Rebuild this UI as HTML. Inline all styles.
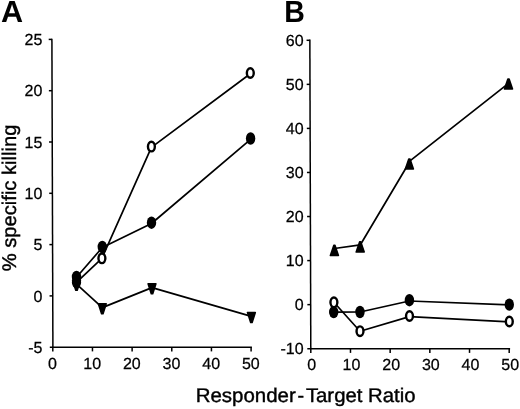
<!DOCTYPE html>
<html><head><meta charset="utf-8"><title>Figure</title>
<style>
html,body{margin:0;padding:0;background:#fff;}
body{width:520px;height:409px;overflow:hidden;}
svg{display:block;filter:grayscale(1);}
text{font-family:"Liberation Sans",sans-serif;text-rendering:geometricPrecision;fill:#000;stroke:#000;stroke-width:0.25;}
.t{font-size:16px;}
.l{font-size:19.8px;stroke-width:0.4;}
.p{font-size:30.6px;font-weight:bold;stroke:none;}
.ax{stroke:#000;stroke-width:1.5;fill:none;}
.ln{stroke:#000;stroke-width:1.7;fill:none;stroke-linejoin:round;}
.fc{fill:#000;stroke:none;}
.oc{fill:#fff;stroke:#000;stroke-width:2.4;}
.tr{fill:#000;stroke:#000;stroke-width:1.6;stroke-linejoin:round;}
</style></head><body>
<svg width="520" height="409" viewBox="0 0 520 409">
<rect width="520" height="409" fill="#fff"/>

<text class="p" x="1.0" y="21.8">A</text>
<text class="p" x="284.3" y="21.8" textLength="20.6" lengthAdjust="spacingAndGlyphs">B</text>
<path class="ax" d="M51.90 38.70L52.90 347.20"/>
<path class="ax" d="M49.8 347.2H251.9"/>
<path class="ax" d="M48.70 39.40H51.90"/>
<text class="t" x="42.4" y="45.00" text-anchor="end">25</text>
<path class="ax" d="M48.87 90.70H52.07"/>
<text class="t" x="42.4" y="96.30" text-anchor="end">20</text>
<path class="ax" d="M49.03 142.00H52.23"/>
<text class="t" x="42.4" y="147.60" text-anchor="end">15</text>
<path class="ax" d="M49.20 193.30H52.40"/>
<text class="t" x="42.4" y="198.90" text-anchor="end">10</text>
<path class="ax" d="M49.37 244.60H52.57"/>
<text class="t" x="42.4" y="250.20" text-anchor="end">5</text>
<path class="ax" d="M49.53 295.90H52.73"/>
<text class="t" x="42.4" y="301.50" text-anchor="end">0</text>
<text class="t" x="42.4" y="352.80" text-anchor="end">-5</text>
<path class="ax" d="M52.80 347.2V351.40"/>
<text class="t" x="52.50" y="369.2" text-anchor="middle">0</text>
<path class="ax" d="M92.46 347.2V351.40"/>
<text class="t" x="92.16" y="369.2" text-anchor="middle">10</text>
<path class="ax" d="M132.12 347.2V351.40"/>
<text class="t" x="131.82" y="369.2" text-anchor="middle">20</text>
<path class="ax" d="M171.78 347.2V351.40"/>
<text class="t" x="171.48" y="369.2" text-anchor="middle">30</text>
<path class="ax" d="M211.44 347.2V351.40"/>
<text class="t" x="211.14" y="369.2" text-anchor="middle">40</text>
<path class="ax" d="M251.10 347.2V351.40"/>
<text class="t" x="250.80" y="369.2" text-anchor="middle">50</text>
<path class="ax" d="M309.85 39.60L310.80 348.70"/>
<path class="ax" d="M307.3 348.7H510.1"/>
<path class="ax" d="M306.55 40.30H309.85"/>
<text class="t" x="303.6" y="46.00" text-anchor="end">60</text>
<path class="ax" d="M306.69 84.36H309.99"/>
<text class="t" x="303.6" y="90.06" text-anchor="end">50</text>
<path class="ax" d="M306.82 128.41H310.12"/>
<text class="t" x="303.6" y="134.11" text-anchor="end">40</text>
<path class="ax" d="M306.96 172.47H310.26"/>
<text class="t" x="303.6" y="178.17" text-anchor="end">30</text>
<path class="ax" d="M307.09 216.53H310.39"/>
<text class="t" x="303.6" y="222.23" text-anchor="end">20</text>
<path class="ax" d="M307.23 260.59H310.53"/>
<text class="t" x="303.6" y="266.29" text-anchor="end">10</text>
<path class="ax" d="M307.36 304.64H310.66"/>
<text class="t" x="303.6" y="310.34" text-anchor="end">0</text>
<text class="t" x="303.6" y="354.40" text-anchor="end">-10</text>
<path class="ax" d="M310.80 348.7V352.90"/>
<text class="t" x="311.80" y="370.2" text-anchor="middle">0</text>
<path class="ax" d="M350.48 348.7V352.90"/>
<text class="t" x="351.48" y="370.2" text-anchor="middle">10</text>
<path class="ax" d="M390.16 348.7V352.90"/>
<text class="t" x="391.16" y="370.2" text-anchor="middle">20</text>
<path class="ax" d="M429.84 348.7V352.90"/>
<text class="t" x="430.84" y="370.2" text-anchor="middle">30</text>
<path class="ax" d="M469.52 348.7V352.90"/>
<text class="t" x="470.52" y="370.2" text-anchor="middle">40</text>
<path class="ax" d="M509.20 348.7V352.90"/>
<text class="t" x="510.20" y="370.2" text-anchor="middle">50</text>
<text class="l" transform="translate(16.2 271.2) rotate(-90)" textLength="146.6" lengthAdjust="spacingAndGlyphs">% specific killing</text>
<text class="l" x="195.7" y="402.2" textLength="100.1" lengthAdjust="spacingAndGlyphs">Responder</text>
<text class="l" x="297.6" y="402.4">-</text>
<text class="l" x="305.9" y="402.2" textLength="109.6" lengthAdjust="spacingAndGlyphs">Target Ratio</text>
<path class="ln" d="M76.50 284.10L102.30 307.60L152.00 287.60L251.40 316.40"/>
<path class="ln" d="M76.50 282.30L101.90 258.30L151.40 147.40L250.30 73.80"/>
<path class="ln" d="M76.50 277.30L102.30 247.50L151.50 223.50L250.60 139.30"/>
<path class="tr" d="M72.60 280.30H80.40L77.20 290.20H75.80Z"/>
<path class="tr" d="M98.40 303.80H106.20L103.00 313.70H101.60Z"/>
<path class="tr" d="M148.10 283.80H155.90L152.70 293.70H151.30Z"/>
<path class="tr" d="M247.50 312.60H255.30L252.10 322.50H250.70Z"/>
<ellipse class="oc" cx="76.50" cy="282.30" rx="3.45" ry="4.8"/>
<ellipse class="oc" cx="101.90" cy="258.30" rx="3.45" ry="4.8"/>
<ellipse class="oc" cx="151.40" cy="146.60" rx="3.45" ry="4.8"/>
<ellipse class="oc" cx="250.30" cy="73.00" rx="3.45" ry="4.8"/>
<ellipse class="fc" cx="76.50" cy="276.90" rx="4.7" ry="6.2"/>
<ellipse class="fc" cx="102.30" cy="247.00" rx="4.7" ry="6.2"/>
<ellipse class="fc" cx="151.50" cy="222.70" rx="4.7" ry="6.2"/>
<ellipse class="fc" cx="250.60" cy="138.50" rx="4.7" ry="6.2"/>
<ellipse class="fc" cx="76.5" cy="282.3" rx="3.2" ry="4.2"/>
<path class="ln" d="M334.40 248.50L360.40 244.80L410.30 160.70L508.50 83.40"/>
<path class="ln" d="M333.70 312.10L360.00 312.00L409.40 301.00L509.30 304.80"/>
<path class="ln" d="M333.90 302.30L360.00 331.20L409.50 316.60L509.30 321.90"/>
<path class="tr" d="M330.40 255.40H338.40L335.00 245.40H333.80Z"/>
<path class="tr" d="M356.20 251.90H364.20L360.80 241.90H359.60Z"/>
<path class="tr" d="M405.40 169.00H413.40L410.00 159.00H408.80Z"/>
<path class="tr" d="M504.50 89.00H512.50L509.10 79.00H507.90Z"/>
<ellipse class="fc" cx="333.70" cy="312.10" rx="4.7" ry="6.2"/>
<ellipse class="fc" cx="360.00" cy="312.00" rx="4.7" ry="6.2"/>
<ellipse class="fc" cx="409.40" cy="300.20" rx="4.7" ry="6.2"/>
<ellipse class="fc" cx="509.30" cy="304.60" rx="4.7" ry="6.2"/>
<ellipse class="oc" cx="333.90" cy="302.30" rx="3.45" ry="4.8"/>
<ellipse class="oc" cx="360.00" cy="331.20" rx="3.45" ry="4.8"/>
<ellipse class="oc" cx="409.50" cy="316.00" rx="3.45" ry="4.8"/>
<ellipse class="oc" cx="509.30" cy="321.50" rx="3.45" ry="4.8"/>
</svg></body></html>
